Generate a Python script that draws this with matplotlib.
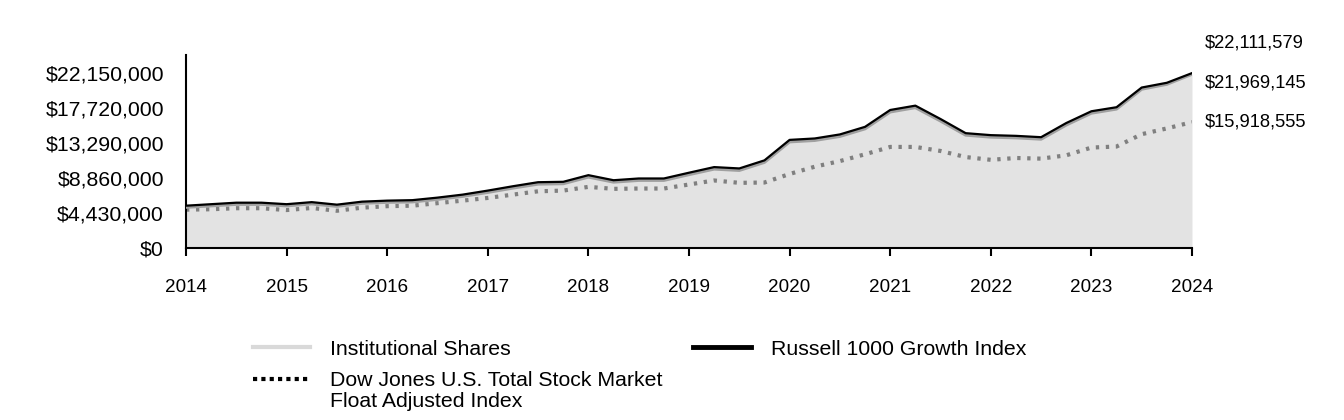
import numpy as np
import matplotlib.pyplot as plt
from matplotlib.lines import Line2D
from matplotlib.ticker import FuncFormatter

plt.rcParams['font.family'] = ['Liberation Sans', 'DejaVu Sans']

# quarterly points, 2014 Q0 .. 2024 Q0 (values in $ millions)
quarters = 2014 + np.arange(41) * 0.25

russell = [5.35, 5.54, 5.73, 5.73, 5.54, 5.80, 5.48, 5.86, 5.99, 6.05,
           6.37, 6.75, 7.26, 7.81, 8.32, 8.37, 9.21, 8.57, 8.79, 8.79,
           9.52, 10.23, 10.06, 11.08, 13.67, 13.85, 14.36, 15.32, 17.45, 18.00,
           16.31, 14.52, 14.27, 14.18, 14.01, 15.80, 17.29, 17.80, 20.29, 20.89,
           22.111579]
institutional = [5.15, 5.33, 5.52, 5.52, 5.33, 5.58, 5.27, 5.65, 5.78, 5.83,
                 6.15, 6.53, 7.03, 7.58, 8.08, 8.13, 8.97, 8.33, 8.55, 8.55,
                 9.28, 9.98, 9.81, 10.83, 13.42, 13.60, 14.11, 15.07, 17.20, 17.75,
                 16.06, 14.27, 14.02, 13.93, 13.76, 15.55, 17.05, 17.57, 20.08, 20.70,
                 21.969145]
dowjones = [4.85, 4.90, 5.03, 5.03, 4.80, 5.06, 4.71, 5.10, 5.29, 5.35,
            5.67, 5.99, 6.33, 6.75, 7.17, 7.26, 7.73, 7.48, 7.52, 7.52,
            8.03, 8.54, 8.24, 8.28, 9.36, 10.28, 10.99, 11.85, 12.78, 12.78,
            12.27, 11.50, 11.15, 11.38, 11.30, 11.72, 12.70, 12.83, 14.39, 15.12,
            15.918555]

yticks = [0, 4.43, 8.86, 13.29, 17.72, 22.15]
years = list(range(2014, 2025))

fig = plt.figure(figsize=(13.44, 4.2), dpi=100)
ax = fig.add_axes([0.1384, 0.4095, 0.7485, 0.4595])

ax.fill_between(quarters, 0, institutional, color='#e3e3e3', lw=0, zorder=1)
ax.plot(quarters, institutional, color='#a0a0a0', lw=2.2, zorder=3)
ax.plot(quarters, dowjones, color='#808080', lw=3.0,
        linestyle=(0, (0.8, 1.6)), zorder=2)
ax.plot(quarters, russell, color='black', lw=1.6, zorder=4)

ax.set_xlim(2014, 2024)
ax.set_ylim(0, 24.4)
ax.set_xticks(years)
ax.set_yticks(yticks)
ax.yaxis.set_major_formatter(FuncFormatter(lambda v, p: '${:,.0f}'.format(v * 1e6)))
ax.tick_params(axis='x', length=6, width=1.5, pad=16, labelsize=13.6)
ax.tick_params(axis='y', length=0, pad=16, labelsize=15.3)
for s in ['top', 'right']:
    ax.spines[s].set_visible(False)
ax.spines['left'].set_linewidth(1.5)
ax.spines['bottom'].set_linewidth(1.5)

# end labels
ends = [(russell[-1], 22), (institutional[-1], -6), (dowjones[-1], 0)]
for val, dy in ends:
    ax.annotate('${:,.0f}'.format(val * 1e6), xy=(quarters[-1], val),
                xytext=(9, dy), textcoords='offset points',
                ha='left', va='center', fontsize=13.2, annotation_clip=False)

handles = [Line2D([], [], color='#d9d9d9', lw=3),
           Line2D([], [], color='black', lw=3, linestyle=(0, (1, 1))),
           Line2D([], [], color='black', lw=3.5)]
labels = ['Institutional Shares',
          'Dow Jones U.S. Total Stock Market',
          'Russell 1000 Growth Index']
leg = fig.legend(handles, labels, ncol=2, loc='upper left',
                 bbox_to_anchor=(0.174, 0.2364), frameon=False, fontsize=15.3,
                 handlelength=2.7, handletextpad=0.93, columnspacing=1.45,
                 labelspacing=0.58)

# second line of the Dow Jones label, under the first one
fig.canvas.draw()
bb = leg.get_texts()[1].get_window_extent().transformed(fig.transFigure.inverted())
fig.text(bb.x0, bb.y0 - 21 / 420, 'Float Adjusted Index', fontsize=15.3,
         ha='left', va='bottom')

fig.savefig('out.png', dpi=100)
